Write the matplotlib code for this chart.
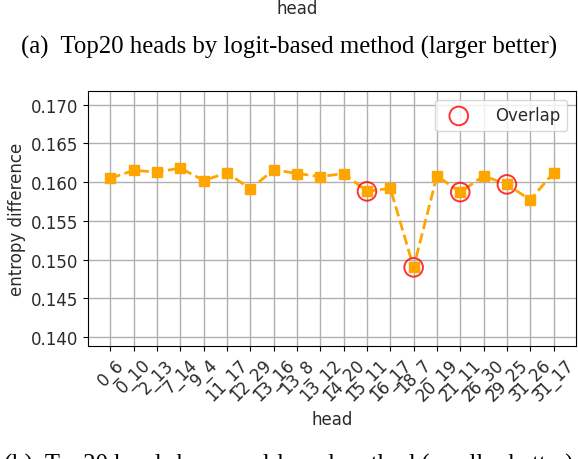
import matplotlib
matplotlib.use("Agg")
import matplotlib.pyplot as plt

heads = ["0_6", "0_10", "2_13", "7_14", "9_4", "11_17", "12_29", "13_16", "13_8", "13_12",
         "14_20", "15_11", "16_17", "18_7", "20_19", "21_11", "26_30", "29_25", "31_26", "31_17"]
entropy_diff = [0.1605, 0.1615, 0.1613, 0.1618, 0.1602, 0.1612, 0.1591, 0.1616, 0.1611, 0.1607,
                0.1611, 0.1588, 0.1592, 0.1490, 0.1608, 0.1587, 0.1608, 0.1597, 0.1577, 0.1612]
overlap_heads = ["15_11", "18_7", "21_11", "29_25"]

fig = plt.figure(figsize=(5.78, 4.60), dpi=100)
ax = fig.add_axes([0.1528, 0.2463, 0.996 - 0.1528, 0.7993 - 0.2463])

x = list(range(len(heads)))
ax.plot(x, entropy_diff, color="orange", linestyle="--", linewidth=2,
        marker="s", markersize=7, zorder=3)
ox = [heads.index(h) for h in overlap_heads]
oy = [entropy_diff[i] for i in ox]
ax.scatter(ox, oy, s=180, facecolors="none", edgecolors="red", linewidths=1.4,
           alpha=0.8, label="Overlap", zorder=4)

tc = "#2a2a2a"
ax.set_xticks(x)
ax.set_xticklabels(heads, rotation=45, fontsize=12, color=tc)
ax.set_yticks([0.140, 0.145, 0.150, 0.155, 0.160, 0.165, 0.170])
ax.set_yticklabels(["0.140", "0.145", "0.150", "0.155", "0.160", "0.165", "0.170"],
                   fontsize=12, color=tc)
ax.set_xlim(-0.95, 19.95)
ax.set_ylim(0.1389, 0.1717)
ax.grid(True, color="#b0b0b0", linewidth=1.0)
ax.set_axisbelow(True)
ax.set_xlabel("head", fontsize=12, color=tc)
ax.set_ylabel("entropy difference", fontsize=12, color=tc)
leg = ax.legend(loc="upper right", fontsize=12, handletextpad=1.2)
for t in leg.get_texts():
    t.set_color(tc)

fig.text(0.515, 0.999, "head", ha="center", va="top", fontsize=12, color=tc)
fig.text(0.5, 0.897, "(a)  Top20 heads by logit-based method (larger better)", ha="center",
         va="center", fontsize=17.8, family="Liberation Serif")
fig.text(0.5, -0.012, "(b)  Top20 heads by causal-based method (smaller better)", ha="center",
         va="center", fontsize=17.8, family="Liberation Serif")

fig.savefig("out.png", dpi=100)
